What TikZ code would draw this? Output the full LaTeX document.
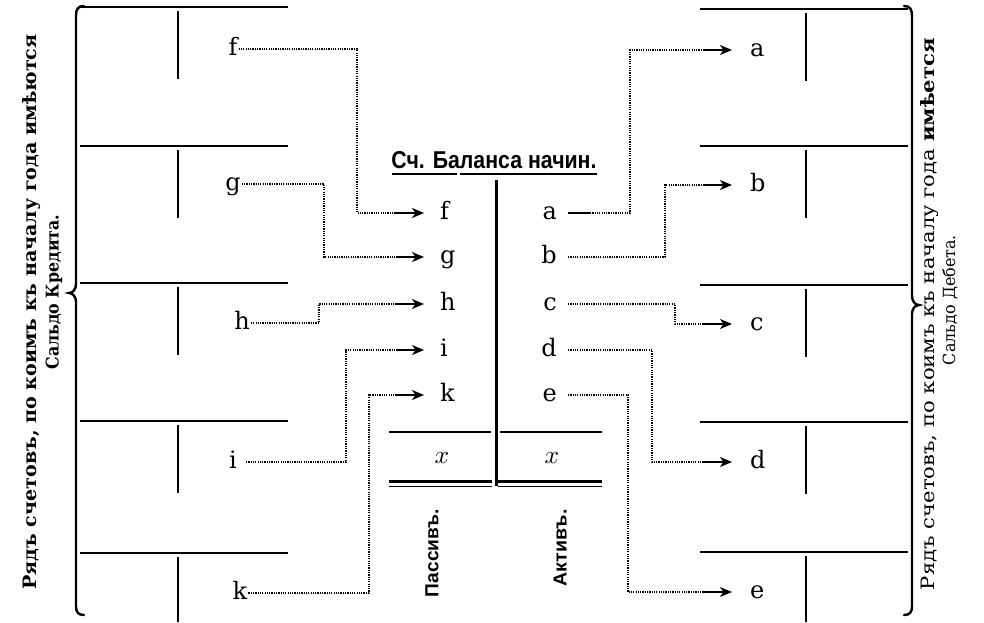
\documentclass[tikz,border=0pt]{standalone}
\usepackage{fontspec}
\setmainfont{DejaVu Serif}
\newfontfamily\titlefont{Liberation Sans}
\usetikzlibrary{arrows.meta}
\begin{document}
\begin{tikzpicture}[x=1pt,y=-1pt,
  tl/.style={line width=2.6pt},
  dl/.style={line width=1.1pt, dash pattern=on 1.2pt off 1.1pt},
  arr/.style={line width=1.4pt, -{Stealth[length=12pt,width=10pt,inset=3.5pt]}},
  lab/.style={font=\fontsize{24pt}{24pt}\selectfont, text height=15pt, text depth=3pt, inner ysep=0pt},
  outl/.style={lab, inner xsep=1pt},
  cinl/.style={lab, anchor=west, inner xsep=16pt},
  cinr/.style={lab, anchor=east, inner xsep=11pt},
  outr/.style={lab, anchor=west, inner xsep=18pt},
  brace/.style={line width=2.4pt, line cap=round},
]
\useasboundingbox (0,0) rectangle (984,622);
\fill[white] (0,0) rectangle (984,622);

% ---- left T accounts
\foreach \y in {7,146,283,421,553} \draw[tl] (80,\y) -- (288,\y);
\foreach \y in {7,146,283,421} \draw[tl] (178,{\y+4}) -- (178,{\y+72});
\draw[tl] (178,557) -- (178,622);
% ---- right T accounts
\foreach \y in {9,146,285,422,552} \draw[tl] (700,\y) -- (908,\y);
\foreach \y in {9,146,285,422} \draw[tl] (806,{\y+4}) -- (806,{\y+72});
\draw[tl] (806,556) -- (806,622);

% ---- braces
\draw[brace] (84,6) .. controls (78,6) and (76,9) .. (76,16) -- (76,284)
  .. controls (76,289) and (73,293) .. (69,293) .. controls (73,293) and (76,297) .. (76,302)
  -- (76,606) .. controls (76,612) and (78,615) .. (84,615);
\draw[brace] (904,6) .. controls (910,6) and (912,9) .. (912,16) -- (912,296)
  .. controls (912,301) and (915,305) .. (919,305) .. controls (915,305) and (912,309) .. (912,314)
  -- (912,606) .. controls (912,612) and (910,615) .. (904,615);

% ---- side texts
\node[rotate=90, inner sep=0pt] (tl1) at (32,312)
  {\resizebox{555pt}{14pt}{\fontsize{16pt}{16pt}\selectfont\bfseries Рядъ счетовъ, по коимъ къ началу года имѣются}};
\node[rotate=90, inner sep=0pt] (tl2) at (54,292)
  {\resizebox{155pt}{13pt}{\fontsize{16pt}{16pt}\selectfont\bfseries Сальдо Кредита.}};
\node[rotate=90, inner sep=0pt] (tr1) at (930,314)
  {\resizebox{552pt}{14pt}{\fontsize{16pt}{16pt}\selectfont Рядъ счетовъ, по коимъ къ началу года \textbf{имѣется}}};
\node[rotate=90, inner sep=0pt] (tr2) at (950,300)
  {\resizebox{130pt}{13pt}{\fontsize{16pt}{16pt}\selectfont Сальдо Дебета.}};

% ---- central balance account
\node[inner sep=0pt] (title) at (494,160)
  {\resizebox{205pt}{17pt}{\titlefont\bfseries Сч. Баланса начин.}};
\draw[line width=2.6pt] (392,174) -- (457,174) (460,174) -- (597,174);
\draw[line width=3pt] (496,180) -- (496,486);
\draw[line width=2.4pt] (389,432) -- (491,432) (500,432) -- (602,432);
\node[inner sep=0pt] (xl) at (442,458) {\resizebox{!}{11pt}{$x$}};
\node[inner sep=0pt] (xr) at (552,458) {\resizebox{!}{11pt}{$x$}};
\draw[line width=3pt] (389,481) -- (492,481) (498,481) -- (602,481);
\draw[line width=0.9pt] (389,486) -- (492,486) (498,486) -- (602,486);
\node[rotate=90, inner sep=0pt] (pas) at (432,553)
  {\resizebox{88pt}{13pt}{\titlefont\bfseries Пассивъ.}};
\node[rotate=90, inner sep=0pt] (akt) at (560,548)
  {\resizebox{77pt}{13pt}{\titlefont\bfseries Активъ.}};

% ---- labels
\node[outl] (Lf) at (233,49) {f};
\node[outl] (Lg) at (233,184) {g};
\node[outl] (Lh) at (242,323) {h};
\node[outl] (Li) at (233,462) {i};
\node[outl] (Lk) at (240,593) {k};

\node[cinl] (Cf) at (424,213) {f};
\node[cinl] (Cg) at (424,257) {g};
\node[cinl] (Ch) at (424,304) {h};
\node[cinl] (Ci) at (424,350) {i};
\node[cinl] (Ck) at (424,395) {k};

\node[cinr] (Ca) at (568,213) {a};
\node[cinr] (Cb) at (568,257) {b};
\node[cinr] (Cc) at (568,304) {c};
\node[cinr] (Cd) at (568,350) {d};
\node[cinr] (Ce) at (568,395) {e};

\node[outr] (Ra) at (732,50) {a};
\node[outr] (Rb) at (732,185) {b};
\node[outr] (Rc) at (732,324) {c};
\node[outr] (Rd) at (732,462) {d};
\node[outr] (Re) at (732,592) {e};

% ---- connectors left -> centre
\draw[dl] (Lf.east) -| (357,213) -- (396,213);  \draw[arr] (396,213) -- (Cf.west);
\draw[dl] (Lg.east) -| (324,257) -- (396,257);  \draw[arr] (396,257) -- (Cg.west);
\draw[dl] (Lh.east) -| (319,304) -- (396,304);  \draw[arr] (396,304) -- (Ch.west);
\draw[dl] ([xshift=8pt]Li.east) -| (346,350) -- (396,350);  \draw[arr] (396,350) -- (Ci.west);
\draw[dl] (Lk.east) -| (369,395) -- (396,395);  \draw[arr] (396,395) -- (Ck.west);

% ---- connectors centre -> right
\draw[line width=1.3pt] (Ca.east) -- (590,213);
\draw[dl] (590,213) -| (630,50) -- (703,50);  \draw[arr] (703,50) -- (Ra.west);
\draw[dl] (Cb.east) -| (665,185) -- (703,185); \draw[arr] (703,185) -- (Rb.west);
\draw[dl] (Cc.east) -| (675,324) -- (703,324); \draw[arr] (703,324) -- (Rc.west);
\draw[dl] (Cd.east) -| (652,462) -- (703,462); \draw[arr] (703,462) -- (Rd.west);
\draw[dl] (Ce.east) -| (628,592) -- (703,592); \draw[arr] (703,592) -- (Re.west);
\end{tikzpicture}
\end{document}
